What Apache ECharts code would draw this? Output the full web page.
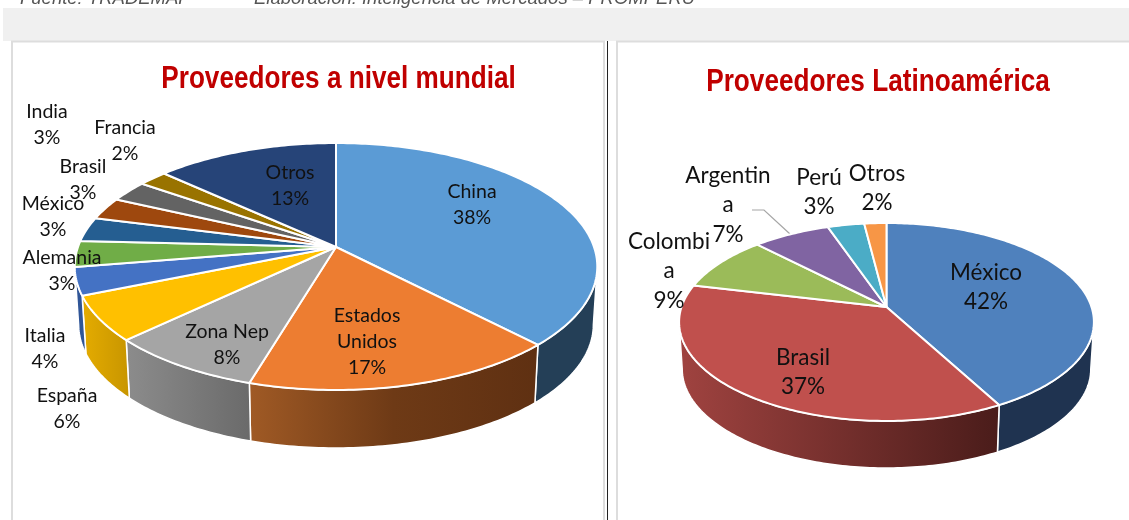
<!DOCTYPE html>
<html>
<head>
<meta charset="utf-8">
<title>Proveedores</title>
<script src="https://cdn.jsdelivr.net/npm/echarts@6/dist/echarts.min.js"></script>
<style>
    html, body { margin: 0; padding: 0; background: #fff; }
    #main { width: 1129px; height: 520px; }
</style>
</head>
<body>
<div id="main"></div>
<script>
// datos (los porcentajes de las etiquetas salen de aqui)
const worldNames = ['China', 'Estados\nUnidos', 'Zona Nep', 'España', 'Italia', 'Alemania', 'México', 'Brasil', 'India', 'Francia', 'Otros'];
const worldValues = [37.8, 16.8, 8.3, 5.9, 3.6, 3.4, 3.2, 2.9, 2.8, 2.1, 13.2];
const latamNames = ['México', 'Brasil', 'Colombi\na', 'Argentin\na', 'Perú', 'Otros'];
const latamValues = [42.1, 36.6, 9, 7, 3.3, 2];

const worldColors = ['#5B9BD5', '#ED7D31', '#A5A5A5', '#FFC000', '#4472C4', '#70AD47', '#255E91', '#9E480E', '#636363', '#997300', '#264478'];
const worldWalls = [['#243F57', '#243F57'], ['#A05A25', '#6E3A16', '#5F3012'], ['#8C8C8C', '#6A6A6A'], ['#E5AC00', '#C79500'], ['#2F5597', '#2F5597']];
const latamColors = ['#4F81BD', '#C0504D', '#9BBB59', '#8064A2', '#4BACC6', '#F79646'];
const latamWalls = [['#1F3350', '#1F3350'], ['#A04340', '#4A1C1A']];

// etiquetas colocadas a mano, igual que en el original
const worldLabelPos = [[472, 205], [367, 342], [227, 345], [67, 409], [45, 349], [62, 271], [53, 217], [83, 180], [47, 125], [125, 141], [290, 186]];
const latamLabelPos = [[986, 287], [803, 372], [669, 271], [728, 205], [819, 192], [877, 188]];

// apex = vertice de la torta, k = perspectiva
const worldPie = { cx: 336, cy: 247, a: 120.4, b: 258, k: 0.158, depth: 58, shrink: 0.985, font: '19.5px Lato', lineHeight: 26 };
const latamPie = { cx: 886.5, cy: 307, a: 96.7, b: 205, k: 0.1515, depth: 47, shrink: 0.985, font: '22.5px Lato', lineHeight: 29.5 };

function project(pie, t) {
    const u = Math.sin(t), v = Math.cos(t);
    const w = 1 + pie.k * v;
    return [pie.cx + pie.b * u / w, pie.cy - pie.a * v / w];
}

function rim(pie, t0, t1) {
    const pts = [];
    const n = Math.max(2, Math.ceil((t1 - t0) * 60));
    for (let i = 0; i <= n; i++) {
        pts.push(project(pie, t0 + (t1 - t0) * i / n));
    }
    return pts;
}

function pieSeries(pie, names, values, colors, walls, labelPos) {
    const total = values.reduce((s, x) => s + x, 0);
    return {
        type: 'custom',
        coordinateSystem: 'none',
        silent: true,
        data: values,
        renderItem: function (params, api) {
            const i = params.dataIndex;
            let before = 0;
            for (let j = 0; j < i; j++) before += values[j];
            const t0 = before / total * Math.PI * 2;
            const t1 = (before + api.value(0)) / total * Math.PI * 2;
            const children = [];

            // pared lateral, solo la parte que mira al frente
            const front = Math.acos(-pie.k);
            const w0 = Math.max(t0, front), w1 = Math.min(t1, Math.PI * 2 - front);
            if (w1 > w0 && walls[i]) {
                const top = rim(pie, w0, w1);
                const bottom = top.map(p => [pie.cx + (p[0] - pie.cx) * pie.shrink, p[1] + pie.depth]).reverse();
                const stops = walls[i].map((c, n) => ({ offset: n / (walls[i].length - 1), color: c }));
                children.push({
                    type: 'polygon',
                    shape: { points: top.concat(bottom) },
                    style: {
                        fill: new echarts.graphic.LinearGradient(0, 0, 1, 0, stops),
                        stroke: '#fff',
                        lineWidth: 1.5
                    }
                });
            }

            // cara superior
            children.push({
                type: 'polygon',
                shape: { points: [[pie.cx, pie.cy]].concat(rim(pie, t0, t1)) },
                style: { fill: colors[i], stroke: '#fff', lineWidth: 2, lineJoin: 'round' }
            });

            // etiqueta
            children.push({
                type: 'text',
                z2: 50,
                style: {
                    text: names[i] + '\n' + Math.round(api.value(0) / total * 100) + '%',
                    x: labelPos[i][0],
                    y: labelPos[i][1],
                    align: 'center',
                    verticalAlign: 'middle',
                    font: pie.font,
                    lineHeight: pie.lineHeight,
                    fill: '#111'
                }
            });
            return { type: 'group', children: children };
        }
    };
}

const titleStyle = { font: 'bold 31px "Liberation Sans"', fill: '#C00000', align: 'center', verticalAlign: 'middle' };

const option = {
    backgroundColor: '#fff',
    animation: false,
    graphic: [
        { type: 'text', z: 1, style: { text: 'Fuente: TRADEMAP', x: 20, y: -1, font: 'italic 18.5px "Liberation Sans"', fill: '#555', verticalAlign: 'middle' } },
        { type: 'text', z: 1, style: { text: 'Elaboración: Inteligencia de Mercados – PROMPERÚ', x: 254, y: -1, font: 'italic 18.5px "Liberation Sans"', fill: '#555', verticalAlign: 'middle' } },
        { type: 'rect', z: 2, shape: { x: 3, y: 8, width: 1126, height: 33 }, style: { fill: '#F0F0F0' } },
        { type: 'rect', z: 2, shape: { x: 12, y: 41.5, width: 592, height: 500 }, style: { fill: 'none', stroke: '#DDD', lineWidth: 2 } },
        { type: 'rect', z: 2, shape: { x: 617, y: 41.5, width: 530, height: 500 }, style: { fill: 'none', stroke: '#DDD', lineWidth: 2 } },
        { type: 'line', z: 2, shape: { x1: 607.5, y1: 41, x2: 607.5, y2: 520 }, style: { stroke: '#222', lineWidth: 1 } },
        { type: 'polyline', z: 2, shape: { points: [[752, 210], [764, 210], [790, 234]] }, style: { stroke: '#A6A6A6', lineWidth: 1.2, fill: 'none' } },
        { type: 'text', z: 3, x: 338.5, y: 79, scaleX: 0.843, style: Object.assign({ text: 'Proveedores a nivel mundial', x: 0, y: 0 }, titleStyle) },
        { type: 'text', z: 3, x: 878, y: 82, scaleX: 0.845, style: Object.assign({ text: 'Proveedores Latinoamérica', x: 0, y: 0 }, titleStyle) }
    ],
    series: [
        pieSeries(worldPie, worldNames, worldValues, worldColors, worldWalls, worldLabelPos),
        pieSeries(latamPie, latamNames, latamValues, latamColors, latamWalls, latamLabelPos)
    ]
};

var myChart = echarts.init(document.getElementById('main'), null, { renderer: 'canvas' });
myChart.setOption(option);
</script>
</body>
</html>
